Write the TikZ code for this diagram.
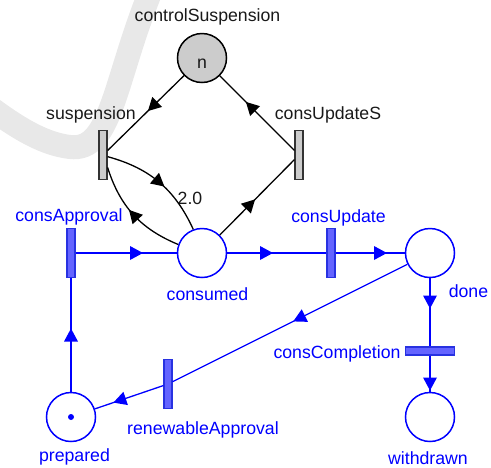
\documentclass[tikz,border=0pt]{standalone}
\usepackage{fontspec}
\setmainfont{Liberation Sans}
\usetikzlibrary{decorations.markings}
\definecolor{netblue}{RGB}{0,0,255}
\definecolor{transblue}{RGB}{100,100,255}
\definecolor{transedge}{RGB}{40,50,225}
\definecolor{ctlgrey}{RGB}{204,204,204}
\definecolor{bandgrey}{RGB}{232,232,232}
\begin{document}
\begin{tikzpicture}[x=1pt, y=-1pt,
  font=\fontsize{17.7}{20}\selectfont,
  place/.style={circle, minimum size=49pt, inner sep=0pt, line width=1.5pt},
  bplace/.style={place, draw=netblue, fill=white},
  gplace/.style={place, draw=black, fill=ctlgrey},
  vtrans/.style={rectangle, minimum width=8pt, minimum height=49pt, inner sep=0pt, line width=1.2pt},
  htrans/.style={rectangle, minimum width=49pt, minimum height=8pt, inner sep=0pt, line width=1.2pt},
  btrans/.style={draw=transedge, fill=transblue},
  gtrans/.style={draw=black!80, fill=ctlgrey},
  blab/.style={text=netblue, anchor=base, inner sep=0pt},
  klab/.style={text=black!90, anchor=base, inner sep=0pt},
  barc/.style={draw=netblue, line width=1.3pt},
  karc/.style={draw=black, line width=1.3pt},
  % filled triangular head centred on the middle of the path
  tipmid/.style={decoration={markings, mark=at position 0.5 with
      {\fill (6.5,0) -- (-6.5,7) -- (-6.5,-7) -- cycle;}}, postaction={decorate}},
]
\useasboundingbox (0,0) rectangle (491,467);

% faint background swoosh
\draw[bandgrey, line width=24pt, line cap=round]
  (152,-12) .. controls (114,80) and (112,152) .. (70,147)
            .. controls (45,144) and (20,130) .. (-12,106);

% control part
\node[gplace] (ctl) at (202,58) {};
\node[klab] (ctlmark) at (202,68) {n};
\node[vtrans, gtrans] (susp) at (103,155) {};
\node[vtrans, gtrans] (cupS) at (299,155) {};

% consumption net
\node[bplace] (cons) at (202,253) {};
\node[vtrans, btrans] (capp) at (71,253) {};
\node[vtrans, btrans] (cupd) at (331,253) {};
\node[bplace] (done) at (430,253) {};
\node[htrans, btrans] (ccomp) at (430,351) {};
\node[bplace] (wd) at (430,417) {};
\node[bplace] (prep) at (71,417) {};
\node[circle, fill=netblue, inner sep=0pt, minimum size=6pt] (tok) at (prep) {};
\node[vtrans, btrans] (renew) at (168,384) {};

% labels
\node[klab] (lctl) at (207.5,21) {controlSuspension};
\node[klab] (lsusp) at (91,119.5) {suspension};
\node[klab] (lcupS) at (328,119.5) {consUpdateS};
\node[klab] (lw) at (190,204) {2.0};
\node[blab] (lcapp) at (69,221) {consApproval};
\node[blab] (lcupd) at (338.5,222) {consUpdate};
\node[blab] (lcons) at (207.5,300.5) {consumed};
\node[blab] (ldone) at (468.5,297.5) {done};
\node[blab] (lccomp) at (337,358) {consCompletion};
\node[blab] (lrenew) at (203,434) {renewableApproval};
\node[blab] (lprep) at (74.5,461) {prepared};
\node[blab] (lwd) at (428,464) {withdrawn};

% black arcs
\draw[karc] (ctl) -- (susp);
\path[black, tipmid] (ctl.center) -- (susp.center);
\draw[karc] (cupS) -- (ctl);
\path[black, tipmid] (cupS.center) -- (ctl.center);
\draw[karc] (cons) -- (cupS);
\path[black, tipmid] (cons.center) -- (cupS.center);
\draw[karc, tipmid] (susp) to[bend left=25] (cons);
\draw[karc, tipmid] (cons) to[bend left=25] (susp);

% blue arcs
\draw[barc] (capp) -- (cons);
\path[netblue, tipmid] (capp.center) -- (cons.center);
\draw[barc] (cons) -- (cupd);
\path[netblue, tipmid] (cons.center) -- (cupd.center);
\draw[barc] (cupd) -- (done);
\path[netblue, tipmid] (cupd.center) -- (done.center);
\draw[barc] (done) -- (ccomp);
\path[netblue, tipmid] (done.center) -- (ccomp.center);
\draw[barc] (ccomp) -- (wd);
\path[netblue, tipmid] (ccomp.center) -- (wd.center);
\draw[barc] (done) -- (renew);
\path[netblue, tipmid] (done.center) -- (renew.center);
\draw[barc] (renew) -- (prep);
\path[netblue, tipmid] (renew.center) -- (prep.center);
\draw[barc] (prep) -- (capp);
\path[netblue, tipmid] (prep.center) -- (capp.center);
\end{tikzpicture}
\end{document}
